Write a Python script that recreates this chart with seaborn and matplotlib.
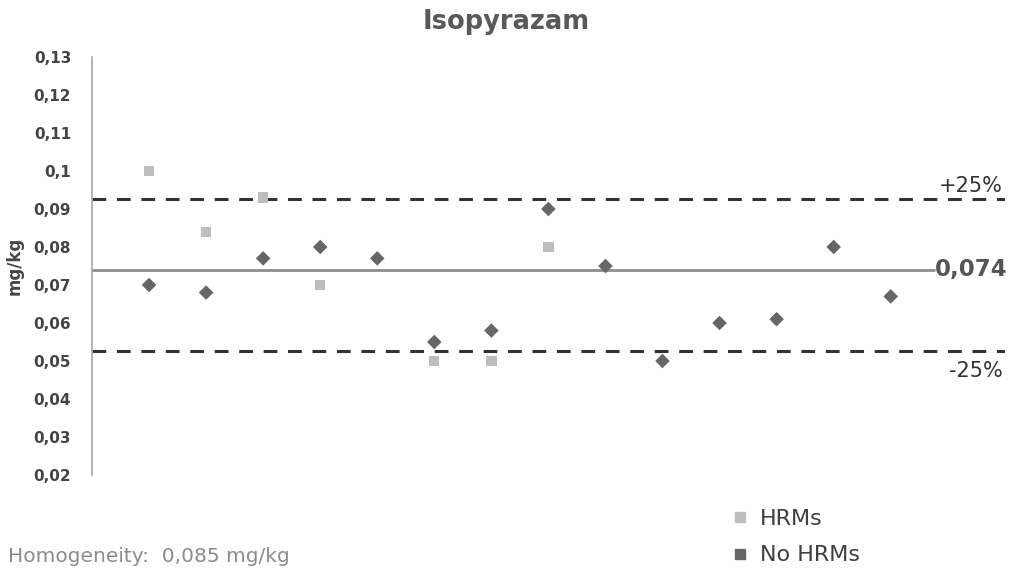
import matplotlib
matplotlib.use('Agg')
import matplotlib.pyplot as plt
from matplotlib.lines import Line2D
import pandas as pd
import seaborn as sns

# valores (mg/kg)
hrm_labs = [1, 2, 3, 4, 6, 7, 8]
hrm_vals = [0.100, 0.084, 0.093, 0.070, 0.050, 0.050, 0.080]
nohrm_labs = [1, 2, 3, 4, 5, 6, 7, 8, 9, 10, 11, 12, 13, 14]
nohrm_vals = [0.070, 0.068, 0.077, 0.080, 0.077, 0.055, 0.058, 0.090,
              0.075, 0.050, 0.060, 0.061, 0.080, 0.067]
assigned = 0.074
upper = 0.0925
lower = 0.0525
yticks = [0.02, 0.03, 0.04, 0.05, 0.06, 0.07, 0.08, 0.09, 0.1, 0.11, 0.12, 0.13]
ytick_labels = ['0,02', '0,03', '0,04', '0,05', '0,06', '0,07', '0,08', '0,09',
                '0,1', '0,11', '0,12', '0,13']

df = pd.concat([
    pd.DataFrame({'lab': hrm_labs, 'value': hrm_vals, 'group': 'HRMs'}),
    pd.DataFrame({'lab': nohrm_labs, 'value': nohrm_vals, 'group': 'No HRMs'}),
])

sns.set_style('white')
plt.rcParams['font.family'] = ['DejaVu Sans']

fig = plt.figure(figsize=(10.12, 5.74), dpi=100)
ax = fig.add_axes([0.0909, 0.1725, 0.902, 0.7282])

colors = {'HRMs': '#bdbdbd', 'No HRMs': '#666666'}
sns.scatterplot(data=df, x='lab', y='value', hue='group', style='group',
                markers={'HRMs': 's', 'No HRMs': 'D'}, palette=colors,
                s=55, linewidth=0, legend=False, ax=ax, zorder=3)

ax.axhline(upper, color='#333333', lw=2.2, ls=(0, (4.5, 3.5)), zorder=2)
ax.axhline(lower, color='#333333', lw=2.2, ls=(0, (4.5, 3.5)), zorder=2)
ax.plot([0, 14.75], [assigned, assigned], color='#8c8c8c', lw=2, zorder=2)

ax.text(15.97, upper + 0.001, '+25%', ha='right', va='bottom', fontsize=15, color='#333333')
ax.text(15.97, lower - 0.0025, '-25%', ha='right', va='top', fontsize=15, color='#333333')
ax.text(14.78, assigned, '0,074', ha='left', va='center', fontsize=16.5,
        fontweight='bold', color='#555555')

ax.set_xlim(0, 16)
ax.set_ylim(0.02, 0.13)
ax.set_xticks([])
ax.set_yticks(yticks)
ax.set_yticklabels(ytick_labels, fontsize=11, color='#444444', fontweight='bold')
ax.tick_params(axis='y', length=0, pad=15)
ax.set_xlabel('')
ax.set_ylabel('mg/kg', fontsize=12, fontweight='bold', color='#444444', labelpad=7)
for side in ['top', 'right', 'bottom']:
    ax.spines[side].set_visible(False)
ax.spines['left'].set_color('#a6a6a6')
ax.spines['left'].set_linewidth(1.2)

fig.suptitle('Isopyrazam', x=0.5, y=0.985, fontsize=18.5, fontweight='bold', color='#595959')

handles = [Line2D([], [], marker='s', ls='none', color=colors['HRMs'], markersize=7),
           Line2D([], [], marker='s', ls='none', color=colors['No HRMs'], markersize=7)]
fig.legend(handles, ['HRMs', 'No HRMs'], loc='lower left', bbox_to_anchor=(0.7, -0.02),
           frameon=False, fontsize=16, handletextpad=0.4, labelspacing=0.75,
           labelcolor='#404040', handlelength=1)

fig.text(0.008, 0.03, 'Homogeneity:  0,085 mg/kg', fontsize=14.5, color='#8c8c8c',
         ha='left', va='center')

fig.savefig('out.png', dpi=100)
